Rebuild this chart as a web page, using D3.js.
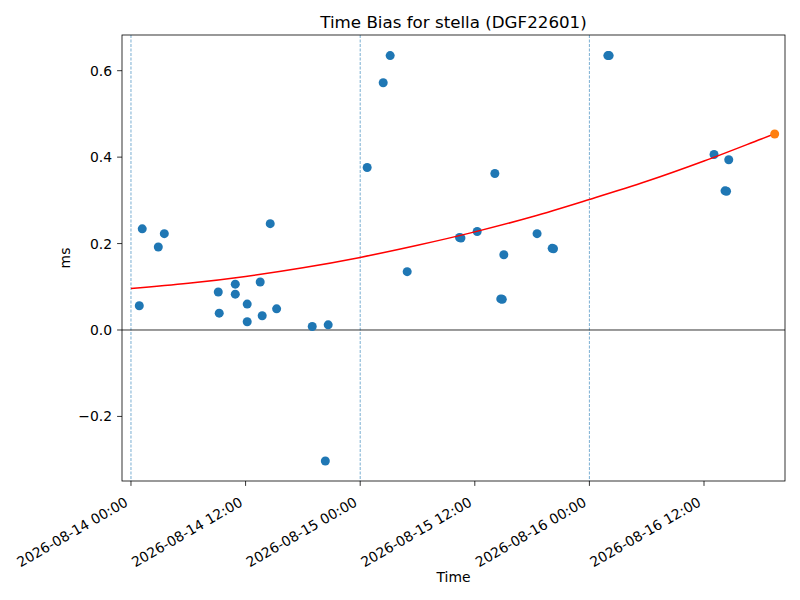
<!DOCTYPE html>
<html>
<head>
<meta charset="utf-8">
<script src="https://cdn.jsdelivr.net/npm/d3@7"></script>
<style>
  body { margin: 0; background: #fff; }
  svg text { font-family: "DejaVu Sans", sans-serif; fill: #000; }
</style>
</head>
<body>
<div id="chart"></div>
<script>
// hours since 2026-08-14 00:00 and time bias in ms
var pointHours = [0.87, 1.18, 2.86, 3.49, 9.14, 9.24, 10.92, 10.92, 12.17, 12.17,
  13.53, 13.74, 14.58, 15.25, 18.98, 20.65, 20.35, 24.73, 26.41, 27.14, 28.92,
  34.4, 34.55, 36.25, 38.1, 39.04, 38.72, 38.88, 42.52, 44.1, 44.24,
  49.93, 50.07, 61.05, 62.59, 62.2, 62.36];
var pointValues = [0.056, 0.234, 0.192, 0.223, 0.088, 0.039, 0.106, 0.083, 0.060, 0.019,
  0.111, 0.033, 0.246, 0.049, 0.008, 0.012, -0.303, 0.376, 0.572, 0.635, 0.135,
  0.214, 0.213, 0.228, 0.362, 0.174, 0.072, 0.071, 0.223, 0.189, 0.188,
  0.635, 0.635, 0.406, 0.394, 0.322, 0.321];

// fitted trend
var fitHours = [0, 6, 12, 18, 24, 30, 36, 42, 48, 54, 60, 66, 67.4];
var fitValues = [0.096, 0.108, 0.124, 0.144, 0.168, 0.196, 0.227, 0.262, 0.302, 0.344, 0.391, 0.442, 0.454];

// predicted point at the end
var predHours = [67.4];
var predValues = [0.4535];

var dayLines = [0, 24, 48];
var xTicks = [0, 12, 24, 36, 48, 60];
var yTicks = [-0.2, 0, 0.2, 0.4, 0.6];

var start = new Date(2026, 7, 14, 0, 0);
function toDate(h) { return new Date(start.getTime() + h * 3600000); }

var margin = { top: 35, right: 15, bottom: 119, left: 122 },
  width = 800 - margin.left - margin.right,
  height = 600 - margin.top - margin.bottom;

var svg = d3.select("#chart").append("svg")
  .attr("width", 800)
  .attr("height", 600);

var g = svg.append("g")
  .attr("transform", "translate(" + margin.left + "," + margin.top + ")");

var x = d3.scaleTime()
  .domain([toDate(-0.94), toDate(68.48)])
  .range([0, width]);

var y = d3.scaleLinear()
  .domain([-0.3494, 0.6826])
  .range([height, 0]);

// day separators
g.selectAll(".day")
  .data(dayLines)
  .join("line")
  .attr("class", "day")
  .attr("x1", d => x(toDate(d)))
  .attr("x2", d => x(toDate(d)))
  .attr("y1", 0)
  .attr("y2", height)
  .style("stroke", "#1f77b4")
  .style("stroke-width", 0.6)
  .style("stroke-dasharray", "3,1.5");

// zero line
g.append("line")
  .attr("x1", 0)
  .attr("x2", width)
  .attr("y1", y(0))
  .attr("y2", y(0))
  .style("stroke", "black")
  .style("stroke-width", 0.8);

g.selectAll(".pt")
  .data(pointHours)
  .join("circle")
  .attr("class", "pt")
  .attr("cx", d => x(toDate(d)))
  .attr("cy", (d, i) => y(pointValues[i]))
  .attr("r", 4.5)
  .style("fill", "#1f77b4");

var line = d3.line()
  .x(d => x(toDate(d)))
  .y((d, i) => y(fitValues[i]))
  .curve(d3.curveMonotoneX);

g.append("path")
  .attr("d", line(fitHours))
  .attr("fill", "none")
  .attr("stroke", "red")
  .attr("stroke-width", 1.5);

g.selectAll(".pred")
  .data(predHours)
  .join("circle")
  .attr("class", "pred")
  .attr("cx", d => x(toDate(d)))
  .attr("cy", (d, i) => y(predValues[i]))
  .attr("r", 4.5)
  .style("fill", "#ff7f0e");

// frame
g.append("rect")
  .attr("width", width)
  .attr("height", height)
  .attr("fill", "none")
  .attr("stroke", "black")
  .attr("stroke-width", 0.8);

// x axis
var fmt = d3.timeFormat("%Y-%m-%d %H:%M");
var xAxis = g.append("g")
  .attr("transform", "translate(0," + height + ")");
xAxis.selectAll("line")
  .data(xTicks)
  .join("line")
  .attr("x1", d => x(toDate(d)))
  .attr("x2", d => x(toDate(d)))
  .attr("y1", 0)
  .attr("y2", 4.9)
  .style("stroke", "black")
  .style("stroke-width", 0.8);
xAxis.selectAll("text")
  .data(xTicks)
  .join("text")
  .attr("transform", d => "translate(" + (x(toDate(d)) - 2) + ",24) rotate(-30)")
  .attr("text-anchor", "end")
  .style("font-size", "13.9px")
  .text(d => fmt(toDate(d)));

// y axis
var yAxis = g.append("g");
yAxis.selectAll("line")
  .data(yTicks)
  .join("line")
  .attr("x1", -4.9)
  .attr("x2", 0)
  .attr("y1", d => y(d))
  .attr("y2", d => y(d))
  .style("stroke", "black")
  .style("stroke-width", 0.8);
yAxis.selectAll("text")
  .data(yTicks)
  .join("text")
  .attr("x", -10)
  .attr("y", d => y(d))
  .attr("dy", "0.36em")
  .attr("text-anchor", "end")
  .style("font-size", "13.9px")
  .text(d => d3.format(".1f")(d).replace("-", "\u2212"));

svg.append("text")
  .attr("x", margin.left + width / 2)
  .attr("y", 28)
  .attr("text-anchor", "middle")
  .style("font-size", "16.7px")
  .text("Time Bias for stella (DGF22601)");

svg.append("text")
  .attr("x", margin.left + width / 2)
  .attr("y", 582)
  .attr("text-anchor", "middle")
  .style("font-size", "13.9px")
  .text("Time");

svg.append("text")
  .attr("transform", "translate(70," + (margin.top + height / 2) + ") rotate(-90)")
  .attr("text-anchor", "middle")
  .style("font-size", "13.9px")
  .text("ms");
</script>
</body>
</html>
